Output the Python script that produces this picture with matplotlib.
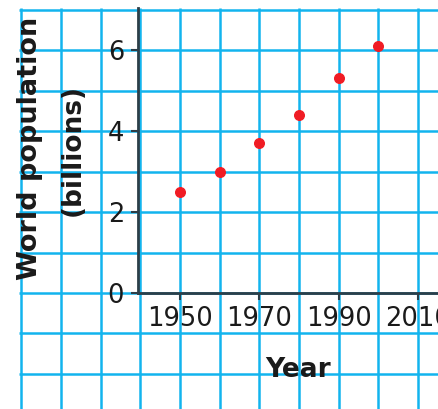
import matplotlib
matplotlib.use("Agg")
import matplotlib.pyplot as plt

# data
years = [1950, 1960, 1970, 1980, 1990, 2000]
population = [2.5, 3.0, 3.7, 4.4, 5.3, 6.1]
x_ticks = [1950, 1970, 1990, 2010]
y_ticks = [0, 2, 4, 6]
grid_x = list(range(1910, 2030, 10))
grid_y = list(range(-3, 8))

plt.rcParams['font.family'] = ['DejaVu Sans']

blue = '#12b4ee'
dark = '#2c3e48'
ink = '#1a1a1a'

fig = plt.figure(figsize=(4.39, 4.09), dpi=100)
ax = fig.add_axes([138 / 439, 116 / 409, 301 / 439, (293 - 8) / 409])
ax.set_xlim(1939.4, 2015.3)
ax.set_ylim(0, 7.04)

# graph paper grid, spilling outside the axes
for gx in grid_x:
    ax.plot([gx, gx], [-3, 7.04], color=blue, lw=1.8, zorder=1, clip_on=False,
            solid_capstyle='butt')
for gy in grid_y:
    ax.plot([1909.5, 2030], [gy, gy], color=blue, lw=1.8, zorder=1, clip_on=False,
            solid_capstyle='butt')

ax.scatter(years, population, s=48, color='#f01c24', zorder=4, clip_on=False)

for side in ['top', 'right']:
    ax.spines[side].set_visible(False)
for side in ['left', 'bottom']:
    ax.spines[side].set_color(dark)
    ax.spines[side].set_linewidth(2)
    ax.spines[side].set_zorder(3)

ax.set_xticks(x_ticks)
ax.set_yticks(y_ticks)
ax.tick_params(axis='both', colors=dark, length=5, width=1.5, labelsize=18.5,
               labelcolor=ink)
ax.tick_params(axis='x', pad=4)
ax.tick_params(axis='y', pad=5)

fig.text(30 / 439, 1 - 148 / 409, 'World population', rotation=90, fontsize=19.5,
         fontweight='bold', ha='center', va='center', color=ink)
fig.text(73 / 439, 1 - 150 / 409, '(billions)', rotation=90, fontsize=19,
         fontweight='bold', ha='center', va='center', color=ink)
fig.text(298 / 439, 1 - 370 / 409, 'Year', fontsize=19, fontweight='bold',
         ha='center', va='center', color=ink)

fig.savefig('out.png', dpi=100)
